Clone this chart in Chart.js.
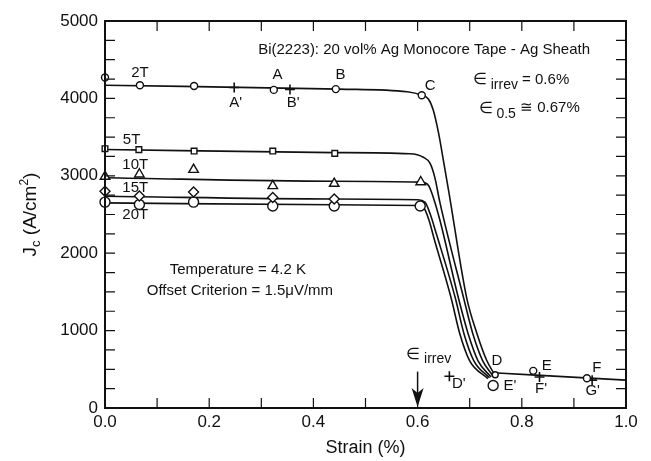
<!DOCTYPE html>
<html>
<head>
<meta charset="utf-8">
<script src="https://cdn.jsdelivr.net/npm/chart.js@4.4.0/dist/chart.umd.min.js"></script>
<style>
  html, body { margin: 0; padding: 0; background: #fff; }
</style>
</head>
<body>
<canvas id="chart" width="651" height="461"></canvas>
<script>
const FONT = '"Liberation Sans", Arial, Helvetica, sans-serif';
const INK = "#111";

// fitted curves, strain (%) vs Jc (A/cm2)
const curve2T_x = [0, 0.45, 0.58, 0.608, 0.621, 0.630, 0.640, 0.650, 0.660, 0.694, 0.714, 0.733, 0.748];
const curve2T_y = [4170, 4120, 4085, 4040, 3990, 3850, 3560, 3180, 2790, 1430, 960, 610, 430];
const curve5T_x = [0, 0.44, 0.585, 0.611, 0.624, 0.633, 0.643, 0.688, 0.706, 0.725, 0.744];
const curve5T_y = [3340, 3300, 3285, 3240, 3160, 2980, 2650, 1430, 960, 610, 420];
const curve10T_x = [0, 0.44, 0.606, 0.621, 0.630, 0.643, 0.678, 0.697, 0.716, 0.741];
const curve10T_y = [2975, 2930, 2918, 2876, 2724, 2422, 1430, 960, 610, 400];
const curve15T_x = [0, 0.44, 0.600, 0.614, 0.624, 0.636, 0.672, 0.689, 0.708, 0.738];
const curve15T_y = [2735, 2700, 2690, 2659, 2509, 2250, 1430, 960, 610, 390];
const curve20T_x = [0, 0.44, 0.600, 0.611, 0.621, 0.632, 0.664, 0.681, 0.700, 0.735];
const curve20T_y = [2650, 2625, 2617, 2595, 2444, 2180, 1430, 960, 610, 380];
const tail_x = [0.745, 1.0];
const tail_y = [455, 360];

// measured points
const circ2T_x = [0, 0.067, 0.171, 0.324, 0.443, 0.608];
const circ2T_y = [4270, 4170, 4160, 4110, 4120, 4040];
const plus2T_x = [0.248, 0.355];            // A', B'
const plus2T_y = [4140, 4115];
const sq5T_x = [0, 0.065, 0.171, 0.322, 0.441];
const sq5T_y = [3350, 3338, 3320, 3320, 3290];
const tri10T_x = [0, 0.066, 0.170, 0.322, 0.440, 0.606];
const tri10T_y = [2990, 3020, 3080, 2870, 2900, 2920];
const dia15T_x = [0, 0.066, 0.170, 0.322, 0.440];
const dia15T_y = [2800, 2740, 2790, 2720, 2700];
const circ20T_x = [0, 0.066, 0.170, 0.322, 0.440, 0.605];
const circ20T_y = [2660, 2630, 2660, 2610, 2610, 2610];
const highCirc_x = [0.749, 0.745, 0.822, 0.925];   // D, E', E, F
const highCirc_y = [430, 290, 480, 385];
const highPlus_x = [0.661, 0.834, 0.935];          // D', F', G'
const highPlus_y = [410, 400, 360];

const irrevStrain = 0.6;
const xTicks = [0, 0.2, 0.4, 0.6, 0.8, 1.0];
const yTicks = [0, 1000, 2000, 3000, 4000, 5000];

const pts = (xs, ys) => xs.map((x, i) => ({ x, y: ys[i] }));

function curve(xs, ys) {
  return {
    type: "scatter",
    data: pts(xs, ys),
    showLine: true,
    cubicInterpolationMode: "monotone",
    borderColor: INK,
    borderWidth: 1.6,
    pointRadius: 0,
    order: 2,
  };
}

function markers(xs, ys, style, radius, width) {
  return {
    type: "scatter",
    data: pts(xs, ys),
    showLine: false,
    clip: false,
    pointStyle: style,
    pointRadius: radius,
    pointBorderColor: INK,
    pointBackgroundColor: "#fff",
    pointBorderWidth: width || 1.4,
    order: 1,
  };
}

// draws text pieces side by side: [text, size, dy]
function richText(ctx, parts, x, y, align) {
  let w = 0;
  parts.forEach((p) => {
    ctx.font = `${p[1]}px ${FONT}`;
    w += ctx.measureText(p[0]).width;
  });
  let cx = align === "center" ? x - w / 2 : x;
  parts.forEach((p) => {
    ctx.font = `${p[1]}px ${FONT}`;
    ctx.fillText(p[0], cx, y + (p[2] || 0));
    cx += ctx.measureText(p[0]).width;
  });
}

const notes = [
  // [parts, strain, Jc, align]
  [[["2T", 15]], 0.067, 4330, "center"],
  [[["5T", 15]], 0.051, 3470, "center"],
  [[["10T", 15]], 0.058, 3140, "center"],
  [[["15T", 15]], 0.058, 2840, "center"],
  [[["20T", 15]], 0.058, 2490, "center"],
  [[["A", 15]], 0.331, 4300, "center"],
  [[["B", 15]], 0.452, 4300, "center"],
  [[["A'", 15]], 0.251, 3937, "center"],
  [[["B'", 15]], 0.361, 3937, "center"],
  [[["C", 15]], 0.624, 4160, "center"],
  [[["D", 15]], 0.752, 607, "center"],
  [[["D'", 15]], 0.679, 318, "center"],
  [[["E'", 15]], 0.777, 284, "center"],
  [[["E", 15]], 0.848, 546, "center"],
  [[["F'", 15]], 0.837, 242, "center"],
  [[["F", 15]], 0.944, 513, "center"],
  [[["G'", 15]], 0.936, 224, "center"],
  [[["Bi(2223): 20 vol% Ag Monocore Tape - Ag Sheath", 15]], 0.294, 4625, "left"],
  [[["\u2208", 16], [" irrev", 14, 5], [" = 0.6%", 15]], 0.706, 4238, "left"],
  [[["\u2208", 16], [" 0.5", 14, 6], [" \u2245 0.67%", 15]], 0.717, 3872, "left"],
  [[["Temperature = 4.2 K", 15]], 0.255, 1783, "center"],
  [[["Offset Criterion = 1.5\u03bcV/mm", 15]], 0.259, 1512, "center"],
  [[["\u2208", 16], [" irrev", 14, 5]], 0.578, 690, "left"],
];

const framePlugin = {
  id: "frame",
  afterDatasetsDraw(chart) {
    const { ctx, chartArea: a, scales } = chart;
    const xs = scales.x, ys = scales.y;
    ctx.save();
    ctx.strokeStyle = INK;
    ctx.fillStyle = INK;

    // inward ticks on all four sides
    ctx.lineWidth = 1.2;
    const tl = 10;
    for (let s = 0.1; s < 1; s += 0.1) {
      const px = xs.getPixelForValue(s);
      ctx.beginPath();
      ctx.moveTo(px, a.bottom); ctx.lineTo(px, a.bottom - tl);
      ctx.moveTo(px, a.top); ctx.lineTo(px, a.top + tl);
      ctx.stroke();
    }
    for (let v = 250; v < 5000; v += 250) {
      const py = ys.getPixelForValue(v);
      ctx.beginPath();
      ctx.moveTo(a.left, py); ctx.lineTo(a.left + tl, py);
      ctx.moveTo(a.right, py); ctx.lineTo(a.right - tl, py);
      ctx.stroke();
    }

    // frame
    ctx.lineWidth = 2;
    ctx.strokeRect(a.left, a.top, a.right - a.left, a.bottom - a.top);

    // irreversible strain arrow
    const ax = xs.getPixelForValue(irrevStrain);
    const aTop = ys.getPixelForValue(470);
    ctx.lineWidth = 1.5;
    ctx.beginPath();
    ctx.moveTo(ax, aTop); ctx.lineTo(ax, a.bottom - 12);
    ctx.stroke();
    ctx.beginPath();
    ctx.moveTo(ax, a.bottom - 1);
    ctx.lineTo(ax - 6, a.bottom - 20);
    ctx.lineTo(ax, a.bottom - 15);
    ctx.lineTo(ax + 6, a.bottom - 20);
    ctx.closePath();
    ctx.fill();

    // annotations
    ctx.textBaseline = "middle";
    notes.forEach(([parts, s, v, align]) => {
      ctx.textAlign = "left";
      richText(ctx, parts, xs.getPixelForValue(s), ys.getPixelForValue(v), align);
    });

    // y axis title with subscript / superscript
    ctx.textBaseline = "alphabetic";
    ctx.translate(36, (a.top + a.bottom) / 2);
    ctx.rotate(-Math.PI / 2);
    richText(ctx, [["J", 19], ["c", 13, 4], [" (A/cm", 19], ["2", 12, -8], [")", 19]], 0, 0, "center");
    ctx.restore();
  },
};

new Chart(document.getElementById("chart"), {
  type: "scatter",
  data: {
    datasets: [
      markers(circ2T_x, circ2T_y, "circle", 3.5),
      markers(plus2T_x, plus2T_y, "cross", 5, 1.6),
      markers(sq5T_x, sq5T_y, "rect", 4),
      markers(tri10T_x, tri10T_y, "triangle", 5.5),
      markers(dia15T_x, dia15T_y, "rectRot", 5),
      markers(circ20T_x, circ20T_y, "circle", 5),
      {
        ...markers(highCirc_x, highCirc_y, "circle", 3.5),
        pointRadius: [3, 5, 3.5, 3.5],
      },
      markers(highPlus_x, highPlus_y, "cross", 5, 1.6),
      curve(curve2T_x, curve2T_y),
      curve(curve5T_x, curve5T_y),
      curve(curve10T_x, curve10T_y),
      curve(curve15T_x, curve15T_y),
      curve(curve20T_x, curve20T_y),
      curve(tail_x, tail_y),
    ],
  },
  options: {
    responsive: false,
    animation: false,
    devicePixelRatio: 1,
    layout: { padding: { top: 21, right: 25, left: 0, bottom: 0 } },
    plugins: { legend: { display: false }, tooltip: { enabled: false } },
    scales: {
      x: {
        type: "linear",
        min: 0,
        max: 1,
        afterBuildTicks: (scale) => { scale.ticks = xTicks.map((value) => ({ value })); },
        afterFit: (scale) => { scale.height = 53; },
        ticks: {
          callback: (v) => v.toFixed(1),
          color: INK,
          font: { family: FONT, size: 17 },
          padding: 4,
          maxRotation: 0,
        },
        grid: { display: false, drawTicks: false },
        border: { display: false },
        title: {
          display: true,
          text: "Strain (%)",
          color: INK,
          font: { family: FONT, size: 18 },
          padding: { top: 0, bottom: 2 },
        },
      },
      y: {
        type: "linear",
        min: 0,
        max: 5000,
        afterBuildTicks: (scale) => { scale.ticks = yTicks.map((value) => ({ value })); },
        afterFit: (scale) => { scale.width = 105; },
        ticks: {
          callback: (v) => String(v),
          color: INK,
          font: { family: FONT, size: 17 },
          padding: 7,
        },
        grid: { display: false, drawTicks: false },
        border: { display: false },
      },
    },
  },
  plugins: [framePlugin],
});
</script>
</body>
</html>
